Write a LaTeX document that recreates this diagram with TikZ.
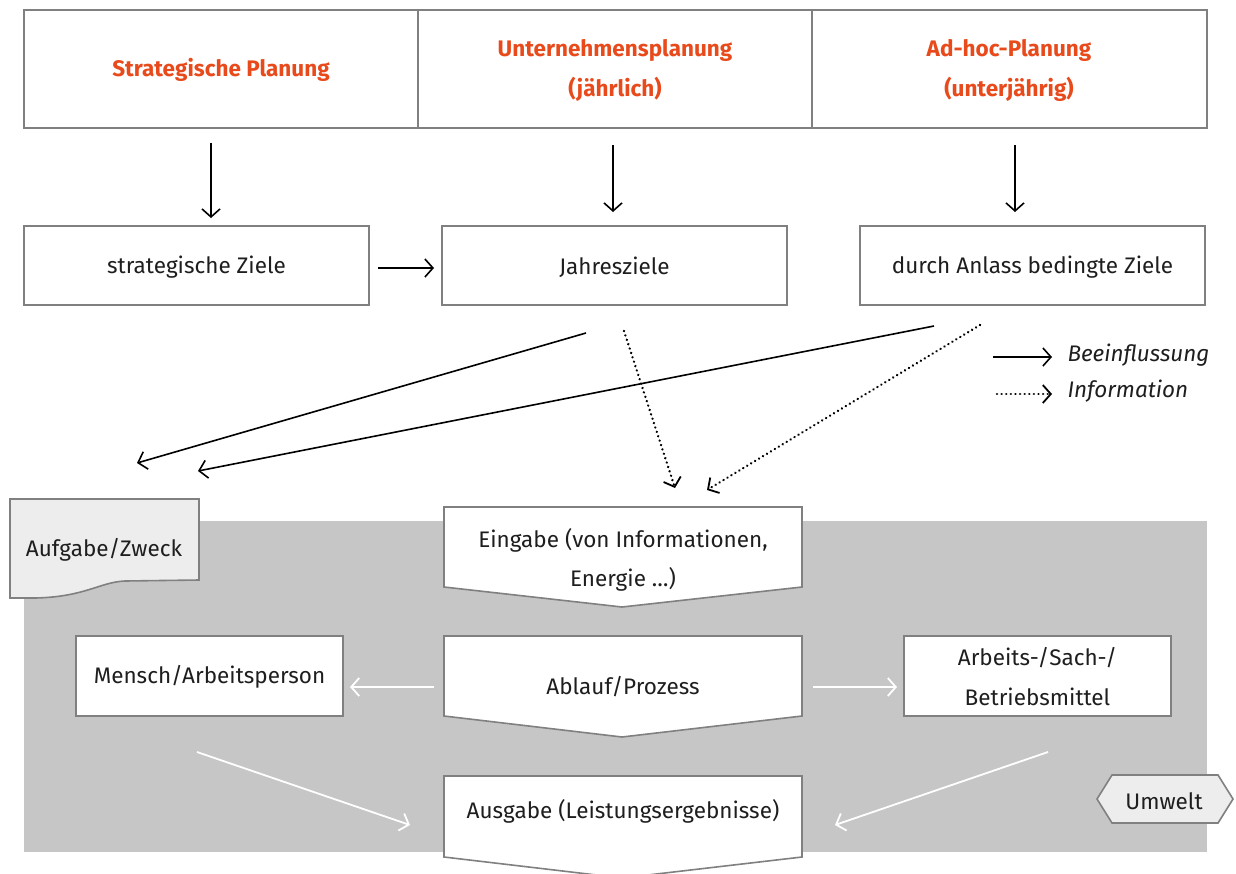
\documentclass[tikz,border=0pt]{standalone}
\usepackage{fontspec}
\setmainfont{Fira Sans}
\usetikzlibrary{arrows.meta}
\definecolor{orangered}{HTML}{E84A1B}
\definecolor{boxgray}{HTML}{808080}
\definecolor{bggray}{HTML}{C6C6C6}
\definecolor{lightfill}{HTML}{EDEDED}
\definecolor{txt}{HTML}{1E1E1E}
\tikzset{
  base/.style={font=\fontsize{22.5}{25}\selectfont, text=txt},
  title/.style={font=\fontsize{22.5}{40}\selectfont\bfseries, text=orangered, align=center},
  boxline/.style={draw=boxgray, line width=1.6pt},
  plainbox/.style={boxline, fill=white},
  arr/.style={-{Straight Barb[length=8pt,width=18pt,line width=1.6pt]}, line width=1.6pt, black},
  darr/.style={-{Straight Barb[length=8pt,width=18pt,line width=1.8pt,line cap=butt]}, line width=2.6pt, black, line cap=round, dash pattern=on 0.01pt off 4.6pt},
  warr/.style={-{Straight Barb[length=8pt,width=18pt,line width=1.8pt]}, line width=1.8pt, white},
}
\begin{document}
\begin{tikzpicture}[x=1pt,y=-1pt]
\useasboundingbox (0,0) rectangle (1236,873);
\fill[white] (0,0) rectangle (1236,873);
% gray background
\fill[bggray] (24,521) rectangle (1207,852);

% top planning boxes
\draw[boxline] (24,10) rectangle (1207,128);
\draw[boxline] (418,10) -- (418,128);
\draw[boxline] (812,10) -- (812,128);
\node[title] (sp) at (221,70) {Strategische Planung};
\node[title] (up) at (615,70) {Unternehmensplanung\\(jährlich)};
\node[title] (ap) at (1009,70) {Ad-hoc-Planung\\(unterjährig)};

% second row
\draw[plainbox] (24,226) rectangle (369,305);
\node[base] (sz) at (196.5,267) {strategische Ziele};
\draw[plainbox] (442,226) rectangle (787,305);
\node[base] (jz) at (614.5,267) {Jahresziele};
\draw[plainbox] (860,226) rectangle (1205,305);
\node[base] (az) at (1032.5,267) {durch Anlass bedingte Ziele};

% vertical arrows
\coordinate (a1s) at (211,143); \coordinate (a1e) at (211,218);
\coordinate (a2s) at (613,145); \coordinate (a2e) at (613,212);
\coordinate (a3s) at (1015,145); \coordinate (a3e) at (1015,212);
\draw[arr] (a1s) -- (a1e);
\draw[arr] (a2s) -- (a2e);
\draw[arr] (a3s) -- (a3e);
\coordinate (hs) at (378,268); \coordinate (he) at (434,268);
\draw[arr] (hs) -- (he);

% diagonal arrows
\coordinate (d1s) at (586,333); \coordinate (d1e) at (137,463);
\coordinate (d2s) at (934,326); \coordinate (d2e) at (198,471);
\coordinate (d3s) at (624,331); \coordinate (d3e) at (675,488);
\coordinate (d4s) at (980,325); \coordinate (d4e) at (707,490);
\draw[arr] (d1s) -- (d1e);
\draw[arr] (d2s) -- (d2e);
\draw[darr] (d3s) -- (d3e);
\draw[darr] (d4s) -- (d4e);

% legend
\coordinate (l1s) at (993,357); \coordinate (l1e) at (1052,357);
\coordinate (l2s) at (997,394); \coordinate (l2e) at (1052,394);
\draw[arr] (l1s) -- (l1e);
\draw[darr] (l2s) -- (l2e);
\node[base, font=\fontsize{22.5}{25}\selectfont\itshape, anchor=west] (lb1) at (1064,355) {Beeinflussung};
\node[base, font=\fontsize{22.5}{25}\selectfont\itshape, anchor=west] (lb2) at (1064,391) {Information};

% Aufgabe/Zweck document
\draw[boxline, fill=lightfill] (10,499) -- (199,499) -- (199,580) -- (125,581)
  .. controls (100,582) and (85,597) .. (35,598) -- (10,598) -- cycle;
\node[base] (auf) at (104,550) {Aufgabe/Zweck};

% Eingabe
\draw[plainbox] (444,507) -- (802,507) -- (802,587) -- (622,607) -- (444,587) -- cycle;
\node[base, align=center, font=\fontsize{22.5}{39}\selectfont] (ein) at (623,560) {Eingabe (von Informationen,\\Energie …)};

% Mensch
\draw[plainbox] (76,636) rectangle (343,716);
\node[base] (men) at (209.5,677) {Mensch/Arbeitsperson};

% Ablauf
\draw[plainbox] (444,636) -- (802,636) -- (802,716) -- (622,737) -- (444,716) -- cycle;
\node[base] (abl) at (623,687) {Ablauf/Prozess};

% Arbeitsmittel
\draw[plainbox] (904,636) rectangle (1171,716);
\node[base, align=center, font=\fontsize{22.5}{40}\selectfont] (arb) at (1037.5,677) {Arbeits-/Sach-/\\Betriebsmittel};

% white arrows
\coordinate (w1s) at (434,687); \coordinate (w1e) at (350,687);
\coordinate (w2s) at (813,687); \coordinate (w2e) at (897,687);
\coordinate (w3s) at (197,752); \coordinate (w3e) at (410,825);
\coordinate (w4s) at (1048,752); \coordinate (w4e) at (835,825);
\draw[warr] (w1s) -- (w1e);
\draw[warr] (w2s) -- (w2e);
\draw[warr] (w3s) -- (w3e);
\draw[warr] (w4s) -- (w4e);

% Ausgabe
\draw[plainbox] (444,776) -- (802,776) -- (802,857) -- (622,878) -- (444,857) -- cycle;
\node[base] (aus) at (623,811) {Ausgabe (Leistungsergebnisse)};

% Umwelt
\draw[boxline, fill=lightfill] (1097,799) -- (1112,775) -- (1218,775) -- (1233,799) -- (1218,823) -- (1112,823) -- cycle;
\node[base] (umw) at (1164,801) {Umwelt};
\end{tikzpicture}
\end{document}
